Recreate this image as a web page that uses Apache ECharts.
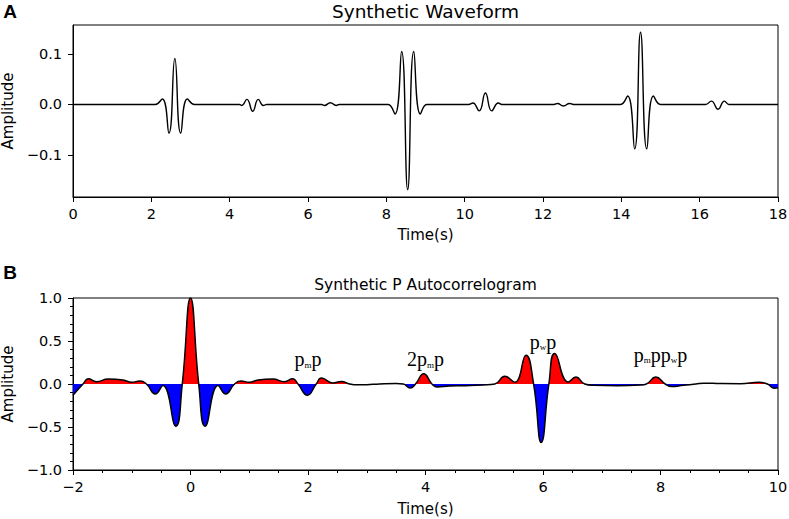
<!DOCTYPE html>
<html>
<head>
<meta charset="utf-8">
<script src="https://cdn.jsdelivr.net/npm/echarts@6/dist/echarts.min.js"></script>
<style>
html, body { margin: 0; padding: 0; background: #fff; }
#chart { width: 789px; height: 519px; }
</style>
</head>
<body>
<div id="chart"></div>
<script>
// panel A: synthetic waveform (time s, amplitude)
var waveTime = [0, 1.9, 2.10, 2.28, 2.45, 2.60, 2.75, 2.92, 3.10, 3.3,
  4.1, 4.25, 4.31, 4.44, 4.59, 4.73, 4.86, 4.95, 5.1,
  6.2, 6.35, 6.42, 6.57, 6.72, 6.80, 6.95,
  7.9, 8.05, 8.22, 8.39, 8.545, 8.70, 8.87, 9.03, 9.2,
  9.95, 10.10, 10.21, 10.37, 10.53, 10.69, 10.86, 10.95, 11.1,
  12.15, 12.28, 12.37, 12.52, 12.68, 12.78, 12.9,
  13.8, 13.98, 14.16, 14.34, 14.49, 14.65, 14.82, 15.0, 15.2,
  16.0, 16.15, 16.30, 16.47, 16.63, 16.75, 16.9, 18];
var waveAmp = [0, 0, 0, 0.0107, -0.057, 0.091, -0.057, 0.0107, 0, 0,
  0, 0, -0.002, 0.010, -0.0135, 0.010, -0.002, 0, 0,
  0, 0, -0.002, 0.0033, -0.002, 0, 0,
  0, 0, -0.019, 0.105, -0.169, 0.105, -0.019, 0, 0,
  0, 0, 0.003, -0.0127, 0.0226, -0.0127, 0.003, 0, 0,
  0, 0, 0.002, -0.003, 0.002, 0, 0,
  0, 0, 0.0166, -0.088, 0.143, -0.088, 0.0166, 0, 0,
  0, 0, 0.0066, -0.0094, 0.0066, 0, 0, 0];

// panel B: autocorrelogram
var acTime = [-2.00, -1.83, -1.74, -1.60, -1.40, -1.15, -1.00, -0.86, -0.75, -0.60, -0.47, -0.25, -0.14,
  0.00, 0.14, 0.25, 0.47, 0.60, 0.75, 0.86, 1.00, 1.15, 1.40, 1.60, 1.74, 1.83, 1.99,
  2.14, 2.23, 2.42, 2.57, 2.71, 2.85, 3.00, 3.22, 3.50, 3.62, 3.74, 3.83, 3.97, 4.11,
  4.20, 4.41, 4.69, 4.98, 5.18, 5.35, 5.52, 5.71, 5.84, 5.97, 6.10, 6.20, 6.43, 6.56,
  6.71, 6.86, 7.26, 7.66, 7.76, 7.92, 8.08, 8.19, 8.39, 8.60, 8.74, 9.02, 9.36, 9.68,
  9.82, 9.94, 10.00];
var acAmp = [-0.13, 0, 0.06, 0.027, 0.058, 0.047, 0.02, 0.035, 0, -0.116, -0.016, -0.49, 0,
  1.0, 0, -0.49, -0.016, -0.116, 0, 0.035, 0.02, 0.047, 0.058, 0.027, 0.06, 0, -0.13,
  0, 0.07, 0.012, 0.03, 0, -0.01, -0.008, 0, 0.005, 0, -0.046, 0, 0.12, 0,
  -0.035, -0.023, -0.02, -0.012, 0, 0.09, 0.02, 0.335, 0, -0.68, 0, 0.355, 0.023, 0.08,
  0, -0.015, -0.02, -0.012, 0, 0.08, 0, -0.03, -0.015, 0, 0.01, 0.005, 0.003, 0.02,
  0, -0.05, -0.045];

// phase labels
var phaseText = ['{n|p}{s|m}{n|p}', '{n|2p}{s|m}{n|p}', '{n|p}{s|w}{n|p}', '{n|p}{s|m}{n|pp}{s|w}{n|p}'];
var phaseTime = [2.0, 4.0, 6.0, 8.0];
var phaseAmp = [0.29, 0.29, 0.49, 0.34];

var ampTicksA = [-0.1, 0, 0.1];

var waveData = waveTime.map(function (t, i) { return [t, waveAmp[i]]; });
var acData = acTime.map(function (t, i) { return [t, acAmp[i]]; });
var phaseData = phaseTime.map(function (t, i) { return [t, phaseAmp[i]]; });

function fmt(v, d) {
  return (v < 0 ? '\u2212' : '') + Math.abs(v).toFixed(d);
}

var sans = 'DejaVu Sans';
var nameFont = { fontFamily: sans, fontSize: 15, color: '#000' };

function centred(x, y, text, font) {
  return { type: 'text', x: x, y: y, style: { text: text, font: font, fill: '#000', align: 'center', verticalAlign: 'middle', textAlign: 'center', textVerticalAlign: 'middle' } };
}

var myChart = echarts.init(document.getElementById('chart'), null, { renderer: 'svg' });

var option = {
  animation: false,
  backgroundColor: '#fff',
  grid: [
    { left: 73, right: 11, top: 25, height: 172, outerBoundsMode: 'none', containLabel: false, show: true, borderColor: '#000', borderWidth: 1, backgroundColor: 'transparent' },
    { left: 73, right: 11, top: 298, height: 172, outerBoundsMode: 'none', containLabel: false, show: true, borderColor: '#000', borderWidth: 1, backgroundColor: 'transparent' }
  ],
  graphic: [
    centred(10, 11, 'A', 'bold 19px "Liberation Sans"'),
    centred(10, 272, 'B', 'bold 19px "Liberation Sans"'),
    centred(425.5, 11, 'Synthetic Waveform', '18.5px "DejaVu Sans"'),
    centred(425.5, 284.5, 'Synthetic P Autocorrelogram', '15.5px "DejaVu Sans"')
  ],
  visualMap: {
    type: 'piecewise',
    show: false,
    seriesIndex: 1,
    dimension: 1,
    pieces: [
      { gt: 0, lte: 1.5, color: '#ff0000' },
      { gte: -1.5, lte: 0, color: '#0000ff' }
    ]
  },
  xAxis: [
    {
      type: 'value', gridIndex: 0, min: 0, max: 18, interval: 2,
      name: 'Time(s)', nameLocation: 'middle', nameGap: 30, nameTextStyle: nameFont,
      axisLine: { onZero: false, lineStyle: { color: '#000', width: 1 } },
      axisTick: { inside: false, length: 5, lineStyle: { color: '#000' } },
      axisLabel: { margin: 9, fontFamily: sans, fontSize: 14.5, color: '#000', formatter: function (v) { return fmt(v, 0); } },
      splitLine: { show: false }
    },
    {
      type: 'value', gridIndex: 1, min: -2, max: 10, interval: 2,
      name: 'Time(s)', nameLocation: 'middle', nameGap: 31, nameTextStyle: nameFont,
      axisLine: { onZero: false, lineStyle: { color: '#000', width: 1 } },
      axisTick: { inside: false, length: 5, lineStyle: { color: '#000' } },
      minorTick: { show: true, splitNumber: 4, length: 3, lineStyle: { color: '#000' } },
      axisLabel: { margin: 9, fontFamily: sans, fontSize: 14.5, color: '#000', formatter: function (v) { return fmt(v, 0); } },
      splitLine: { show: false }
    }
  ],
  yAxis: [
    {
      type: 'value', gridIndex: 0, min: -0.1835, max: 0.1575,
      name: 'Amplitude', nameLocation: 'middle', nameRotate: 90, nameGap: 53, nameTextStyle: nameFont,
      axisLine: { show: true, onZero: false, lineStyle: { color: '#000', width: 1 } },
      axisTick: { show: true, inside: false, length: 5, customValues: ampTicksA, lineStyle: { color: '#000' } },
      axisLabel: { margin: 11, fontFamily: sans, fontSize: 14.5, color: '#000', customValues: ampTicksA, formatter: function (v) { return fmt(v, 1); } },
      splitLine: { show: false }
    },
    {
      type: 'value', gridIndex: 1, min: -1, max: 1, interval: 0.5,
      name: 'Amplitude', nameLocation: 'middle', nameRotate: 90, nameGap: 54, nameTextStyle: nameFont,
      axisLine: { show: true, onZero: false, lineStyle: { color: '#000', width: 1 } },
      axisTick: { show: true, inside: false, length: 5, lineStyle: { color: '#000' } },
      minorTick: { show: true, splitNumber: 5, length: 3, lineStyle: { color: '#000' } },
      axisLabel: { margin: 11, fontFamily: sans, fontSize: 14.5, color: '#000', formatter: function (v) { return fmt(v, 1); } },
      splitLine: { show: false }
    }
  ],
  series: [
    {
      name: 'waveform', type: 'line', xAxisIndex: 0, yAxisIndex: 0,
      data: waveData, smooth: true, showSymbol: false, symbol: 'none',
      lineStyle: { color: '#000', width: 1.4 }
    },
    {
      name: 'fill', type: 'line', xAxisIndex: 1, yAxisIndex: 1,
      data: acData, smooth: true, showSymbol: false, symbol: 'none',
      lineStyle: { opacity: 0, width: 0 },
      areaStyle: { opacity: 1, origin: 0 }
    },
    {
      name: 'autocorrelogram', type: 'line', xAxisIndex: 1, yAxisIndex: 1,
      data: acData, smooth: true, showSymbol: false, symbol: 'none',
      lineStyle: { color: '#000', width: 1.5 }
    },
    {
      name: 'phases', type: 'scatter', xAxisIndex: 1, yAxisIndex: 1,
      data: phaseData, symbolSize: 0, silent: true,
      itemStyle: { opacity: 1 },
      label: {
        show: true, position: 'inside', color: '#000', opacity: 1,
        formatter: function (p) { return phaseText[p.dataIndex]; },
        rich: {
          n: { fontFamily: 'Liberation Serif', fontSize: 20, lineHeight: 20, color: '#000' },
          s: { fontFamily: 'Liberation Serif', fontSize: 9, lineHeight: 13, verticalAlign: 'bottom', color: '#000' }
        }
      }
    }
  ]
};

myChart.setOption(option);
</script>
</body>
</html>
